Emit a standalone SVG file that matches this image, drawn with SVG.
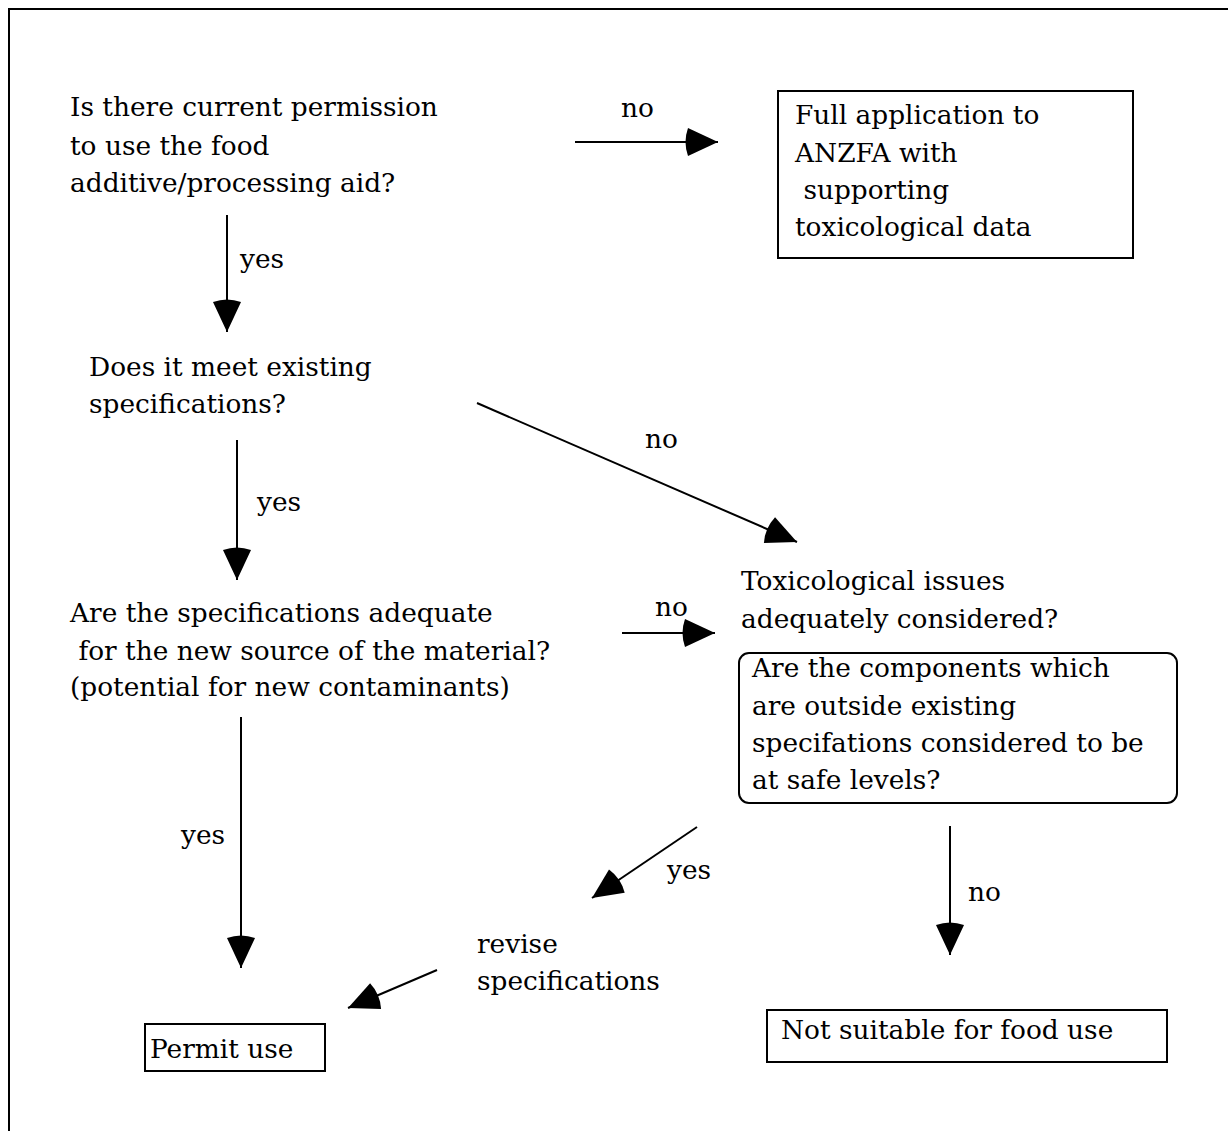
<svg xmlns="http://www.w3.org/2000/svg" width="1228" height="1131" viewBox="0 0 1228 1131">
  <style>
    .t { font-family: "DejaVu Serif", "Liberation Serif", serif; font-size: 26.4px; fill: #000; }
    .box { fill: #fff; stroke: #000; stroke-width: 2; }
    .ln { stroke: #000; stroke-width: 2; fill: none; marker-end: url(#head); }
  </style>
  <defs>
    <!-- wedge-shaped arrowhead, tip at the line end -->
    <marker id="head" markerUnits="userSpaceOnUse" markerWidth="40" markerHeight="40" viewBox="-6 -20 40 40" refX="32" refY="0" orient="auto" overflow="visible">
      <path d="M32,0 L2,-14 Q-3,0 2,14 Z" fill="#000"/>
    </marker>
  </defs>

  <!-- page frame (open at right and bottom) -->
  <path d="M9,1131 V9 H1228" fill="none" stroke="#000" stroke-width="2"/>

  <g id="q-permission">
    <text class="t" x="70" y="116">Is there current permission</text>
    <text class="t" x="70" y="155">to use the food</text>
    <text class="t" x="70" y="192">additive/processing aid?</text>
  </g>

  <g id="full-application">
    <rect class="box" x="778" y="91" width="355" height="167"/>
    <text class="t" x="795" y="124">Full application to</text>
    <text class="t" x="795" y="162">ANZFA with</text>
    <text class="t" x="795" y="199" xml:space="preserve"> supporting</text>
    <text class="t" x="795" y="236">toxicological data</text>
  </g>

  <g id="q-specs">
    <text class="t" x="89" y="376">Does it meet existing</text>
    <text class="t" x="89" y="413">specifications?</text>
  </g>

  <g id="q-adequate">
    <text class="t" x="70" y="622">Are the specifications adequate</text>
    <text class="t" x="70" y="660" xml:space="preserve"> for the new source of the material?</text>
    <text class="t" x="70" y="696">(potential for new contaminants)</text>
  </g>

  <g id="q-tox">
    <text class="t" x="741" y="590">Toxicological issues</text>
    <text class="t" x="741" y="628">adequately considered?</text>
  </g>

  <g id="q-components">
    <rect class="box" x="739" y="653" width="438" height="150" rx="10" ry="10"/>
    <text class="t" x="752" y="677">Are the components which</text>
    <text class="t" x="752" y="715">are outside existing</text>
    <text class="t" x="752" y="752">specifations considered to be</text>
    <text class="t" x="752" y="789">at safe levels?</text>
  </g>

  <g id="revise">
    <text class="t" x="477" y="953">revise</text>
    <text class="t" x="477" y="990">specifications</text>
  </g>

  <g id="permit-use">
    <rect class="box" x="145" y="1024" width="180" height="47"/>
    <text class="t" x="150" y="1058">Permit use</text>
  </g>

  <g id="not-suitable">
    <rect class="box" x="767" y="1010" width="400" height="52"/>
    <text class="t" x="781" y="1039">Not suitable for food use</text>
  </g>

  <g id="connectors">
    <line class="ln" x1="575" y1="142" x2="718" y2="142"/>
    <text class="t" x="621" y="117">no</text>

    <line class="ln" x1="227" y1="215" x2="227" y2="332"/>
    <text class="t" x="240" y="268">yes</text>

    <line class="ln" x1="477" y1="403" x2="797" y2="542"/>
    <text class="t" x="645" y="448">no</text>

    <line class="ln" x1="237" y1="440" x2="237" y2="580"/>
    <text class="t" x="257" y="511">yes</text>

    <line class="ln" x1="622" y1="633" x2="715" y2="633"/>
    <text class="t" x="655" y="616">no</text>

    <line class="ln" x1="697" y1="827" x2="592" y2="898"/>
    <text class="t" x="667" y="879">yes</text>

    <line class="ln" x1="950" y1="826" x2="950" y2="955"/>
    <text class="t" x="968" y="901">no</text>

    <line class="ln" x1="437" y1="970" x2="348" y2="1008"/>

    <line class="ln" x1="241" y1="717" x2="241" y2="968"/>
    <text class="t" x="181" y="844">yes</text>
  </g>
</svg>
